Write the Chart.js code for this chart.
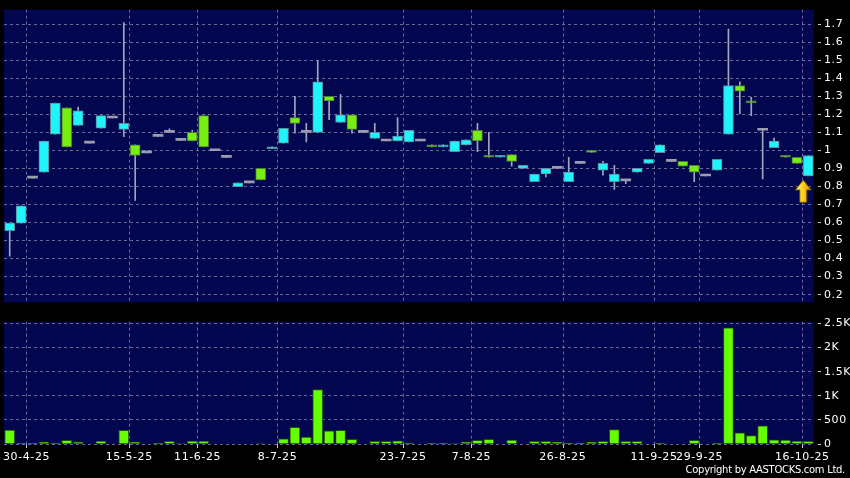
<!DOCTYPE html>
<html>
<head>
<meta charset="utf-8">
<script src="https://cdn.jsdelivr.net/npm/chart.js@4.4.0/dist/chart.umd.min.js"></script>
<style>
  html, body { margin: 0; padding: 0; background: #000; }
  #wrap { position: relative; width: 850px; height: 478px; overflow: hidden; background: #000; }
  #priceChart { position: absolute; left: 0; top: 0; }
  #volChart { position: absolute; left: 0; top: 312px; }
  #copy { position: absolute; right: 5px; top: 464px; color: #fff; font: 10px "DejaVu Sans"; letter-spacing: -0.3px; white-space: nowrap; }
</style>
</head>
<body>
<div id="wrap">
  <canvas id="priceChart" width="850" height="312"></canvas>
  <canvas id="volChart" width="850" height="166"></canvas>
  <div id="copy">Copyright by AASTOCKS.com Ltd.</div>
</div>
<script>
// session index of each dated tick on the x axis
var labelDates = ['30-4-25', '15-5-25', '11-6-25', '8-7-25', '23-7-25', '7-8-25', '26-8-25', '11-9-25', '29-9-25', '16-10-25'];
var labelAt = [2, 11, 17, 24, 35, 41, 49, 57, 61, 70];

// daily candles (71 sessions)
var openP = [0.555, 0.597, 0.846, 0.880, 1.090, 1.236, 1.139, 1.040, 1.123, 1.180,
             1.117, 1.031, 0.986, 1.078, 1.100, 1.056, 1.100, 1.193, 0.998, 0.961,
             0.799, 0.820, 0.900, 1.009, 1.040, 1.182, 1.100, 1.100, 1.300, 1.155,
             1.198, 1.100, 1.066, 1.052, 1.052, 1.047, 1.052, 1.031, 1.020, 0.993,
             1.031, 1.112, 0.970, 0.962, 0.977, 0.900, 0.826, 0.869, 0.900, 0.826,
             0.928, 0.997, 0.890, 0.826, 0.831, 0.880, 0.928, 0.988, 0.939, 0.939,
             0.917, 0.858, 0.890, 1.090, 1.360, 1.272, 1.112, 1.015, 0.970, 0.961,
             0.858];
var closeP = [0.597, 0.692, 0.846, 1.052, 1.263, 1.020, 1.220, 1.040, 1.193, 1.180,
              1.150, 0.972, 0.986, 1.078, 1.100, 1.056, 1.052, 1.020, 0.998, 0.961,
              0.820, 0.820, 0.836, 1.020, 1.123, 1.150, 1.100, 1.380, 1.274, 1.198,
              1.117, 1.100, 1.100, 1.052, 1.079, 1.112, 1.052, 1.020, 1.031, 1.052,
              1.058, 1.052, 0.962, 0.970, 0.939, 0.917, 0.869, 0.900, 0.900, 0.880,
              0.928, 0.989, 0.928, 0.869, 0.831, 0.900, 0.950, 1.031, 0.939, 0.912,
              0.880, 0.858, 0.950, 1.360, 1.328, 1.264, 1.112, 1.052, 0.962, 0.928,
              0.972];
var highP = [0.597, 0.692, 0.846, 1.052, 1.263, 1.236, 1.241, 1.040, 1.193, 1.180,
             1.709, 1.031, 0.986, 1.078, 1.120, 1.056, 1.112, 1.193, 0.998, 0.961,
             0.820, 0.820, 0.900, 1.020, 1.123, 1.300, 1.150, 1.500, 1.300, 1.311,
             1.198, 1.100, 1.150, 1.052, 1.182, 1.112, 1.052, 1.031, 1.031, 1.052,
             1.058, 1.150, 1.100, 0.970, 0.977, 0.917, 0.869, 0.900, 0.900, 0.961,
             0.928, 0.997, 0.939, 0.917, 0.831, 0.900, 0.950, 1.031, 0.939, 0.939,
             0.917, 0.858, 0.950, 1.673, 1.380, 1.295, 1.112, 1.068, 0.970, 0.961,
             0.972];
var lowP = [0.414, 0.597, 0.846, 0.880, 1.090, 1.020, 1.139, 1.040, 1.123, 1.180,
            1.076, 0.723, 0.986, 1.078, 1.100, 1.056, 1.052, 1.020, 0.998, 0.961,
            0.799, 0.820, 0.836, 1.009, 1.040, 1.096, 1.047, 1.100, 1.171, 1.155,
            1.096, 1.100, 1.066, 1.052, 1.052, 1.047, 1.052, 1.020, 1.020, 0.993,
            1.031, 0.993, 0.962, 0.962, 0.912, 0.900, 0.826, 0.853, 0.900, 0.826,
            0.928, 0.989, 0.863, 0.783, 0.815, 0.880, 0.928, 0.988, 0.939, 0.912,
            0.826, 0.858, 0.890, 1.090, 1.204, 1.193, 0.842, 1.015, 0.962, 0.928,
            0.858];
var volume = [290, 5, 5, 34, 5, 75, 41, 0, 61, 0,
              285, 34, 0, 15, 54, 10, 61, 61, 0, 0,
              0, 0, 10, 0, 108, 345, 142, 1131, 271, 285,
              95, 0, 54, 54, 68, 20, 0, 5, 5, 10,
              41, 75, 95, 0, 81, 0, 54, 54, 34, 5,
              14, 34, 54, 298, 54, 54, 0, 14, 0, 0,
              75, 0, 14, 2412, 230, 176, 379, 88, 81, 61,
              54];

var priceTicks = [0.2, 0.3, 0.4, 0.5, 0.6, 0.7, 0.8, 0.9, 1.0, 1.1, 1.2, 1.3, 1.4, 1.5, 1.6, 1.7];
var volTicks = [0, 500, 1000, 1500, 2000, 2500];

// marker under the latest candle
var arrowAt = 70, arrowTip = 0.836, arrowTail = 0.712;

var categories = openP.map(function () { return ''; });
labelAt.forEach(function (k, j) { categories[k] = labelDates[j]; });

var NAVY = '#02074f';
var GRID = 'rgba(130,130,172,0.8)';
var CYAN = '#1ef4fa', GREEN = '#77ee11', FLAT = '#9c9cb0';

Chart.defaults.font.family = '"DejaVu Sans", Verdana, sans-serif';
Chart.defaults.font.size = 11;
Chart.defaults.color = '#fff';
Chart.defaults.animation = false;

var panelBg = {
    id: 'panelBg',
    beforeUpdate: function (chart) { chart.ctx.letterSpacing = '0.6px'; },
    beforeDraw: function (chart) {
        var a = chart.chartArea, ctx = chart.ctx;
        ctx.save();
        ctx.fillStyle = NAVY;
        ctx.fillRect(a.left, a.top, a.right - a.left, a.bottom - a.top);
        ctx.restore();
    }
};

var arrowMark = {
    id: 'arrowMark',
    afterDatasetsDraw: function (chart) {
        var ctx = chart.ctx, x = chart.scales.x, y = chart.scales.y;
        var cx = x.getPixelForValue(arrowAt) - 5;
        var top = y.getPixelForValue(arrowTip), bot = y.getPixelForValue(arrowTail);
        var hw = 8, sw = 3.5, hh = 10;
        ctx.save();
        var g = ctx.createLinearGradient(cx - hw, 0, cx + hw, 0);
        g.addColorStop(0, '#fff09a');
        g.addColorStop(0.45, '#ffd21a');
        g.addColorStop(1, '#d49200');
        ctx.beginPath();
        ctx.moveTo(cx, top);
        ctx.lineTo(cx + hw, top + hh);
        ctx.lineTo(cx + sw, top + hh);
        ctx.lineTo(cx + sw, bot);
        ctx.lineTo(cx - sw, bot);
        ctx.lineTo(cx - sw, top + hh);
        ctx.lineTo(cx - hw, top + hh);
        ctx.closePath();
        ctx.fillStyle = g;
        ctx.fill();
        ctx.strokeStyle = '#6e4a00';
        ctx.lineWidth = 1;
        ctx.stroke();
        ctx.restore();
    }
};

function dateGrid(c) {
    return (c.tick && categories[c.index]) ? GRID : 'rgba(0,0,0,0)';
}

function bodyColor(c) {
    var i = c.dataIndex;
    if (closeP[i] > openP[i]) return CYAN;
    if (closeP[i] < openP[i]) return GREEN;
    return FLAT;
}
function bodyBorder(c) {
    var i = c.dataIndex;
    if (closeP[i] > openP[i]) return '#5f8c9c';
    if (closeP[i] < openP[i]) return '#4f7a3a';
    return FLAT;
}

// price panel
var priceChart = new Chart(document.getElementById('priceChart').getContext('2d'), {
    type: 'bar',
    data: {
        labels: categories,
        datasets: [{
            label: 'body',
            data: openP.map(function (o, i) { return [o, closeP[i]]; }),
            backgroundColor: bodyColor,
            borderColor: bodyBorder,
            borderWidth: function (c) { return openP[c.dataIndex] === closeP[c.dataIndex] ? 0 : 1; },
            borderSkipped: false,
            barThickness: 10,
            minBarLength: 2,
            grouped: false
        }, {
            label: 'wick',
            data: lowP.map(function (l, i) { return [l, highP[i]]; }),
            backgroundColor: '#a4a4bc',
            borderWidth: 0,
            barThickness: 1,
            grouped: false
        }]
    },
    options: {
        responsive: false,
        devicePixelRatio: 1,
        layout: { padding: { left: 4, top: 5, right: 0, bottom: 6 } },
        plugins: { legend: { display: false }, tooltip: { enabled: false } },
        scales: {
            x: {
                type: 'category',
                offset: true,
                grid: { offset: true, color: dateGrid, drawTicks: false },
                border: { display: false, dash: [3, 3] },
                ticks: { display: false, autoSkip: false },
                afterFit: function (s) { s.height = 0; }
            },
            y: {
                position: 'right',
                min: 0.157,
                max: 1.781,
                afterBuildTicks: function (s) { s.ticks = priceTicks.map(function (v) { return { value: v }; }); },
                grid: { color: GRID, tickLength: 7, tickColor: '#c8c8c8', tickBorderDash: [0, 4, 3, 20] },
                border: { display: false, dash: [3, 3] },
                ticks: { padding: 3, callback: function (v) { return String(+v.toFixed(1)); } },
                afterFit: function (s) { s.width = 36; }
            }
        }
    },
    plugins: [panelBg, arrowMark]
});

// volume panel
var volChart = new Chart(document.getElementById('volChart').getContext('2d'), {
    type: 'bar',
    data: {
        labels: categories,
        datasets: [{
            label: 'volume',
            data: volume,
            backgroundColor: '#66ff00',
            borderColor: '#24500c',
            borderWidth: 1,
            barThickness: 10
        }]
    },
    options: {
        responsive: false,
        devicePixelRatio: 1,
        layout: { padding: { left: 4, top: 7, right: 0, bottom: 0 } },
        plugins: { legend: { display: false }, tooltip: { enabled: false } },
        scales: {
            x: {
                type: 'category',
                offset: true,
                grid: { offset: true, color: dateGrid, tickColor: function (c) { return (c.tick && categories[c.index]) ? '#c8c8c8' : 'rgba(0,0,0,0)'; }, tickLength: 4 },
                border: { display: false, dash: [3, 3] },
                ticks: { autoSkip: false, maxRotation: 0, minRotation: 0, labelOffset: -6, padding: 3 },
                afterFit: function (s) { s.height = 34; }
            },
            y: {
                position: 'right',
                min: 0,
                max: 2540,
                afterBuildTicks: function (s) { s.ticks = volTicks.map(function (v) { return { value: v }; }); },
                grid: { color: GRID, tickLength: 7, tickColor: '#c8c8c8', tickBorderDash: [0, 4, 3, 20] },
                border: { display: false, dash: [3, 3] },
                ticks: { padding: 3, callback: function (v) { return v >= 1000 ? (v / 1000) + 'K' : String(v); } },
                afterFit: function (s) { s.width = 36; }
            }
        }
    },
    plugins: [panelBg]
});
</script>
</body>
</html>
